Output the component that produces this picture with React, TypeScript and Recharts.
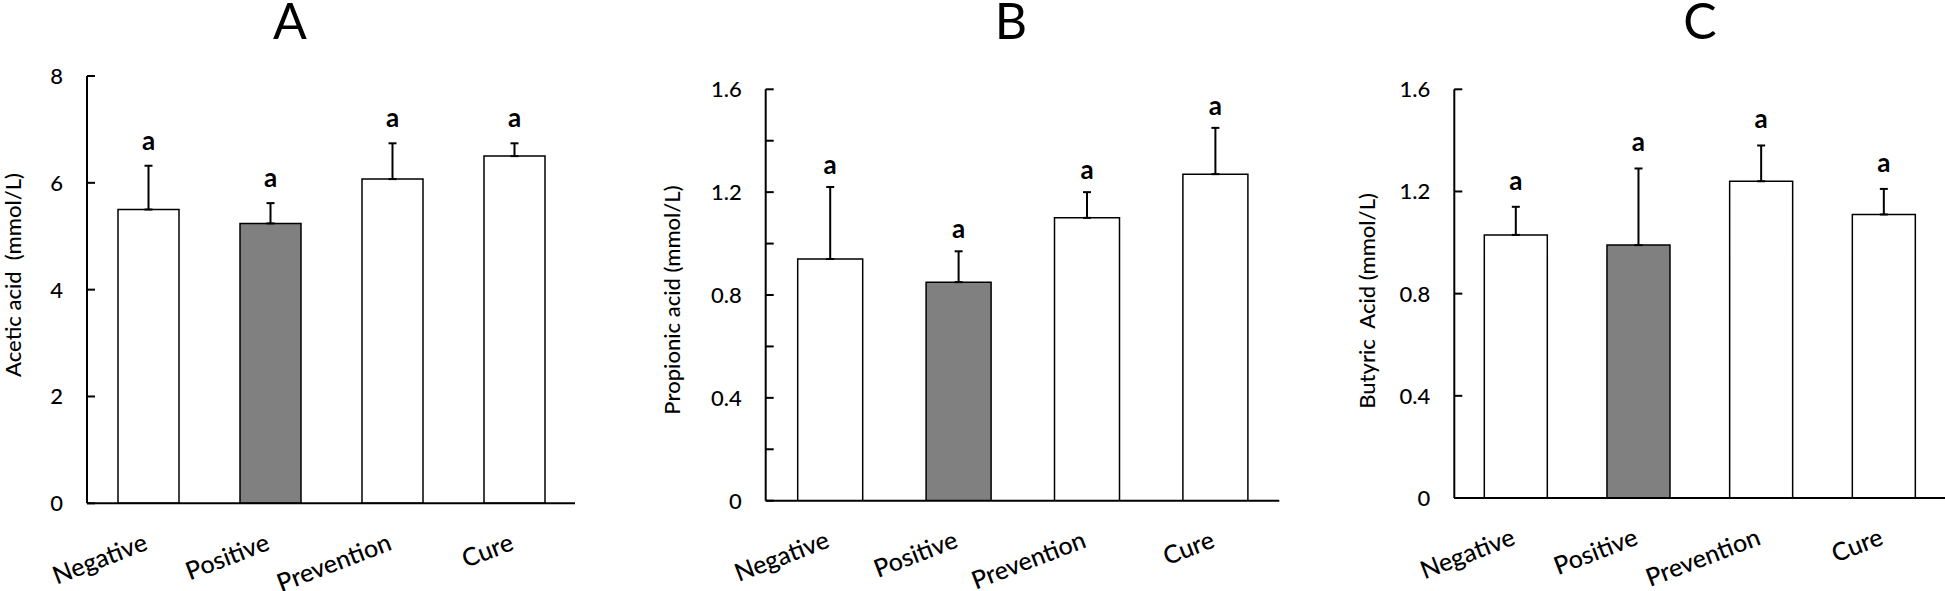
import { BarChart, Bar, XAxis, YAxis, ErrorBar, LabelList, Cell } from "recharts"

const groups = ["Negative", "Positive", "Prevention", "Cure"]
const highlighted = "Positive"

const acetic = [5.5, 5.24, 6.07, 6.5]
const aceticSd = [0.82, 0.38, 0.67, 0.24]
const propionic = [0.94, 0.85, 1.1, 1.27]
const propionicSd = [0.28, 0.12, 0.1, 0.18]
const butyric = [1.03, 0.99, 1.24, 1.11]
const butyricSd = [0.11, 0.3, 0.14, 0.1]
const letters = ["a", "a", "a", "a"]

const aceticTicks = [0, 2, 4, 6, 8]
const propionicTicks = [0, 0.2, 0.4, 0.6, 0.8, 1, 1.2, 1.4, 1.6]
const propionicLabels = [0, 0.4, 0.8, 1.2, 1.6]
const butyricTicks = [0, 0.4, 0.8, 1.2, 1.6]

const FONT = "Lato, 'Open Sans', sans-serif"
const H = 591
const TICK_GAP = 24

const rowsOf = (means: number[], sds: number[]) =>
	groups.map((g, i) => ({
		group: g,
		mean: means[i],
		sd: sds[i],
		err: [0, sds[i]],
		sig: letters[i],
	}))

const GroupTick = (props: any) => {
	const { x, y, payload } = props
	const ty = y + 46
	return (
		<text
			x={x + 1}
			y={ty}
			textAnchor="end"
			transform={`rotate(-21, ${x + 1}, ${ty})`}
			fontSize={25}
			fontWeight={500}
			fontFamily={FONT}
			fill="#000"
		>
			{payload.value}
		</text>
	)
}

const ValueTick = (props: any) => {
	const { x, y, payload, shown } = props
	return (
		<g>
			<line x1={x + TICK_GAP} x2={x + TICK_GAP + 8} y1={y} y2={y} stroke="#000" strokeWidth={2} />
			{shown.includes(payload.value) && (
				<text
					x={x}
					y={y}
					dy="0.36em"
					textAnchor="end"
					fontSize={22}
					fontWeight={500}
					fontFamily={FONT}
					fill="#000"
				>
					{String(payload.value)}
				</text>
			)}
		</g>
	)
}

type PanelProps = {
	left: number
	width: number
	top: number
	bottom: number
	axisWidth: number
	right: number
	barSize: number
	max: number
	ticks: number[]
	shown: number[]
	rows: any[]
	yLabel: string
	yLabelX: number
	yLabelY: number
	labelOffset: number
}

const Panel = (p: PanelProps) => (
	<div style={{ position: "absolute", left: p.left, top: 0 }}>
		<BarChart
			width={p.width}
			height={H}
			data={p.rows}
			margin={{ top: p.top, right: p.right, left: 0, bottom: 0 }}
			barSize={p.barSize}
		>
			<XAxis
				dataKey="group"
				height={H - p.bottom}
				axisLine={{ stroke: "#000", strokeWidth: 2 }}
				tickLine={false}
				tickSize={0}
				tickMargin={0}
				interval={0}
				tick={<GroupTick />}
			/>
			<YAxis
				type="number"
				domain={[0, p.max]}
				ticks={p.ticks}
				interval={0}
				width={p.axisWidth}
				axisLine={{ stroke: "#000", strokeWidth: 2 }}
				tickLine={false}
				tickSize={0}
				tickMargin={TICK_GAP}
				allowDataOverflow
				tick={(tp: any) => <ValueTick {...tp} shown={p.shown} />}
				label={() => (
					<text
						x={p.yLabelX}
						y={p.yLabelY}
						transform={`rotate(-90, ${p.yLabelX}, ${p.yLabelY})`}
						textAnchor="middle"
						dominantBaseline="central"
						fontSize={22}
						fontWeight={500}
						fontFamily={FONT}
						fill="#000"
						style={{ whiteSpace: "pre" }}
					>
						{p.yLabel}
					</text>
				)}
			/>
			<Bar dataKey="mean" stackId="s" stroke="#000" strokeWidth={1.5} isAnimationActive={false}>
				{p.rows.map((r) => (
					<Cell key={r.group} fill={r.group === highlighted ? "#808080" : "#ffffff"} />
				))}
				<ErrorBar dataKey="err" direction="y" width={4} stroke="#000" strokeWidth={2} />
			</Bar>
			<Bar dataKey="sd" stackId="s" fill="none" stroke="none" isAnimationActive={false}>
				<LabelList
					dataKey="sig"
					position="top"
					offset={p.labelOffset}
					fill="#000"
					fontSize={26}
					fontWeight={700}
					fontFamily={FONT}
				/>
			</Bar>
		</BarChart>
	</div>
)

const titles = [
	{ text: "A", x: 290 },
	{ text: "B", x: 1011 },
	{ text: "C", x: 1700 },
]

export default function App() {
	return (
		<div style={{ position: "absolute", left: 0, top: 0, width: 1945, height: H, background: "#fff" }}>
			<Panel
				left={0}
				width={600}
				top={76}
				bottom={503.3}
				axisWidth={87}
				right={25}
				barSize={61}
				max={8}
				ticks={aceticTicks}
				shown={aceticTicks}
				rows={rowsOf(acetic, aceticSd)}
				yLabel="Acetic acid  (mmol/L)"
				yLabelX={12}
				yLabelY={275}
				labelOffset={16}
			/>
			<Panel
				left={600}
				width={700}
				top={89.3}
				bottom={500.7}
				axisWidth={165.7}
				right={20.7}
				barSize={65}
				max={1.6}
				ticks={propionicTicks}
				shown={propionicLabels}
				rows={rowsOf(propionic, propionicSd)}
				yLabel="Propionic acid (mmol/L)"
				yLabelX={71}
				yLabelY={300}
				labelOffset={13}
			/>
			<Panel
				left={1300}
				width={645}
				top={89.3}
				bottom={498}
				axisWidth={154.3}
				right={0}
				barSize={63}
				max={1.6}
				ticks={butyricTicks}
				shown={butyricTicks}
				rows={rowsOf(butyric, butyricSd)}
				yLabel="Butyric  Acid (mmol/L)"
				yLabelX={66.4}
				yLabelY={301}
				labelOffset={17}
			/>
			<svg
				width={1945}
				height={H}
				style={{ position: "absolute", left: 0, top: 0, pointerEvents: "none" }}
			>
				{titles.map((t) => (
					<text key={t.text} x={t.x} y={39} textAnchor="middle" fontSize={50} fontFamily={FONT} fill="#000">
						{t.text}
					</text>
				))}
			</svg>
		</div>
	)
}
